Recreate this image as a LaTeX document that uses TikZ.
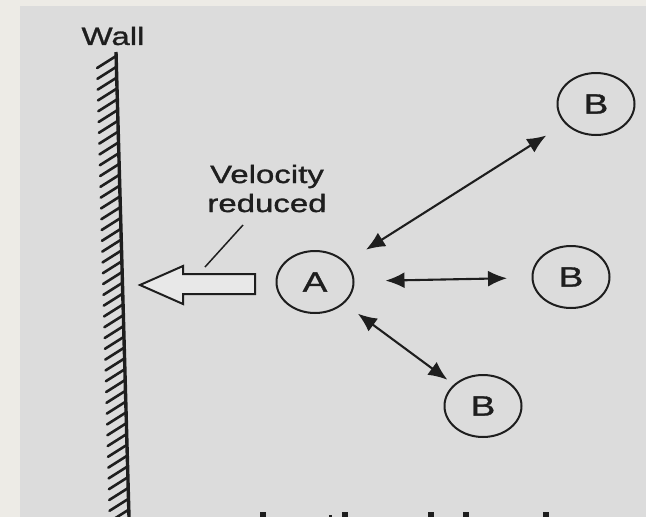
\documentclass[tikz,border=0pt]{standalone}
\usepackage{fontspec}
\setmainfont{Liberation Sans}[FakeStretch=1.32,FakeBold=1.2]
\usetikzlibrary{arrows.meta,shapes.geometric}

\definecolor{paper}{HTML}{EDEBE6}
\definecolor{scan}{HTML}{DCDCDC}
\definecolor{ink}{HTML}{1E1E1E}

\tikzset{
  ball/.style={draw=ink, line width=2pt, ellipse, minimum width=77pt, minimum height=62pt,
    inner sep=0pt, text=ink, font=\fontsize{28}{30}\selectfont},
  pull/.style={{Latex[length=19pt,width=16pt]}-{Latex[length=19pt,width=16pt]}, draw=ink, line width=2.1pt},
  lbl/.style={text=ink, font=\fontsize{25}{29}\selectfont, inner sep=0pt},
  hatch/.style={draw=ink, line width=2.6pt, line cap=round}
}

\begin{document}
\begin{tikzpicture}[x=1pt,y=-1pt]
  \useasboundingbox (0,0) rectangle (646,517);
  \clip (0,0) rectangle (646,517);

  % page and scanned sheet
  \fill[paper] (0,0) rectangle (646,517);
  \fill[scan] (20,6) rectangle (646,517);

  % Wall with hatching
  \node[lbl] (wall) at (113,36) {Wall};
  \coordinate (walltop) at (116,52);
  \coordinate (wallbot) at (129,517);
  \draw[draw=ink, line width=3.4pt] (walltop) -- (wallbot);
  \foreach \i in {0,...,42}{
    \pgfmathsetmacro{\hy}{56+10.8*\i}
    \pgfmathsetmacro{\hx}{116+0.028*(\hy-52)}
    \draw[hatch] (\hx,\hy) -- ++(-19,12);
  }

  % Block arrow towards the wall
  \draw[draw=ink, line width=2pt, fill=scan!65!white, line join=miter]
    (255,274) -- (183,274) -- (183,266) -- (140,285) -- (183,304) -- (183,294) -- (255,294) -- cycle;

  % Label and leader
  \node[lbl, anchor=base] (velo) at (267,183) {Velocity};
  \node[lbl, anchor=base] (reduced) at (267,212) {reduced};
  \coordinate (leadtop) at (243,225);
  \coordinate (leadend) at (205,267);
  \draw[draw=ink, line width=1.5pt] (leadtop) -- (leadend);

  % Molecules
  \node[ball] (A) at (315,282) {A};
  \node[ball] (B1) at (596,104) {B};
  \node[ball] (B2) at (571,277) {B};
  \node[ball] (B3) at (483,406) {B};

  % Interactions
  \draw[pull, shorten <=23.5pt, shorten >=22pt] (A) -- (B1);
  \draw[pull, shorten <=31pt, shorten >=24.5pt] (A) -- (B2);
  \draw[pull, shorten <=17pt, shorten >=8pt] (A) -- (B3);

  % Cut-off text at the bottom edge
  \foreach \sx in {260,342,428,463,543}
    \fill[ink] (\sx,512) rectangle ++(6,6);
  \fill[ink] (329,515) rectangle ++(3,3);
\end{tikzpicture}
\end{document}
